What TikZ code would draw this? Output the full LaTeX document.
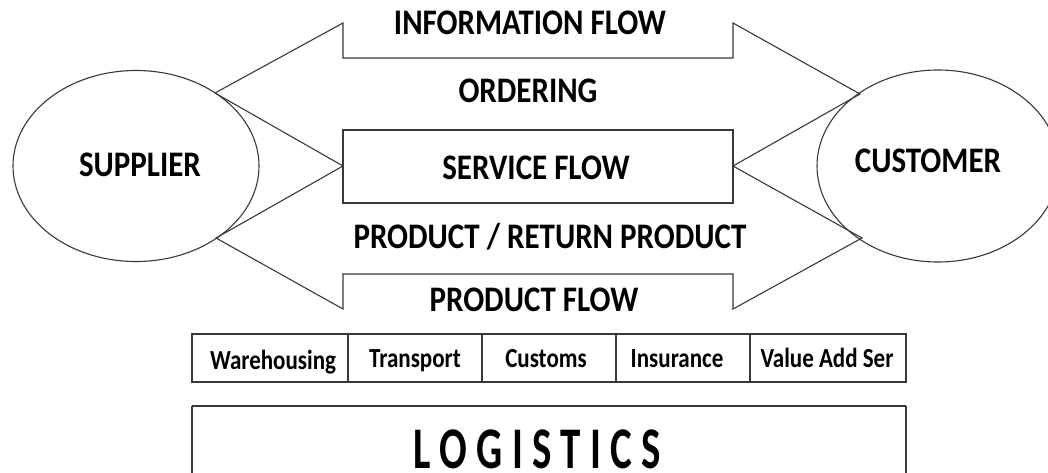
\documentclass[tikz,border=0pt]{standalone}
\usepackage{fontspec}
\setmainfont{Carlito}
\usetikzlibrary{calc}
\tikzset{
  ln/.style={draw=black!78, line width=1.1pt, line join=miter},
  biglbl/.style={anchor=base, inner sep=0pt, font=\fontsize{31}{31}\selectfont\bfseries},
  celllbl/.style={anchor=base, inner sep=0pt, font=\fontsize{23}{23}\selectfont\bfseries},
  ovl/.style={ln, ellipse shape/.style={}},
}
\newcommand{\vs}[2]{\scalebox{1}[#1]{#2}}
\begin{document}
\begin{tikzpicture}[x=1pt,y=-1pt]
\useasboundingbox (0,0) rectangle (1048,473);
\clip (0,0) rectangle (1048,473);
% key points
\coordinate (ltipU) at (215,93);
\coordinate (ltipL) at (216,238);
\coordinate (rtipU) at (860,94);
\coordinate (rtipL) at (862,238);
\coordinate (lheadT) at (343,23);
\coordinate (rheadT) at (733,23);
\coordinate (lshaftT) at (343,58);
\coordinate (rshaftT) at (733,58);
\coordinate (lmid) at (343,166);
\coordinate (rmid) at (733,166);
\coordinate (lshaftB) at (343,274);
\coordinate (rshaftB) at (733,274);
\coordinate (lheadB) at (343,309);
\coordinate (rheadB) at (733,309);
% ellipses
\draw[ln] (136,166) ellipse [x radius=123, y radius=95.5];
\draw[ln] (938,166) ellipse [x radius=121, y radius=96];
% upper double arrow
\draw[ln] (lmid) -- (ltipU) -- (lheadT) -- (lshaftT) -- (rshaftT) -- (rheadT) -- (rtipU) -- (rmid);
% lower double arrow
\draw[ln] (lmid) -- (ltipL) -- (lheadB) -- (lshaftB) -- (rshaftB) -- (rheadB) -- (rtipL) -- (rmid);
% service flow box
\draw[ln] (343,130) rectangle (733,203);
% table
\draw[ln] (192,334) rectangle (906,382);
\foreach \xx in {348,482,616,750} \draw[ln] (\xx,334) -- (\xx,382);
% logistics box
\draw[ln] (192,406) -- (906,406);
\draw[ln] (192,406) -- (192,480);
\draw[ln] (906,406) -- (906,480);
% labels
\node[biglbl] (info) at (530,35) {\vs{1.16}{INFORMATION FLOW}};
\node[biglbl] (order) at (528,103) {\vs{1.16}{ORDERING}};
\node[biglbl] (serv) at (536,179) {\vs{1.16}{SERVICE FLOW}};
\node[biglbl] (ret) at (550,248) {\vs{1.16}{PRODUCT / RETURN PRODUCT}};
\node[biglbl] (prod) at (534,311) {\vs{1.16}{PRODUCT FLOW}};
\node[biglbl] (supp) at (140,176) {\vs{1.16}{SUPPLIER}};
\node[biglbl] (cust) at (928,172) {\vs{1.16}{CUSTOMER}};
\node[celllbl] (c1) at (273,369) {\vs{1.2}{Warehousing}};
\node[celllbl] (c2) at (415,367) {\vs{1.2}{Transport}};
\node[celllbl] (c3) at (546,367) {\vs{1.2}{Customs}};
\node[celllbl] (c4) at (677,367) {\vs{1.2}{Insurance}};
\node[celllbl] (c5) at (827,367) {\vs{1.2}{Value Add Ser}};
\node[anchor=base, inner sep=0pt, font=\fontsize{41}{41}\selectfont\bfseries] (logi) at (537,468) {\vs{1.44}{L O G I S T I C S}};
\end{tikzpicture}
\end{document}
